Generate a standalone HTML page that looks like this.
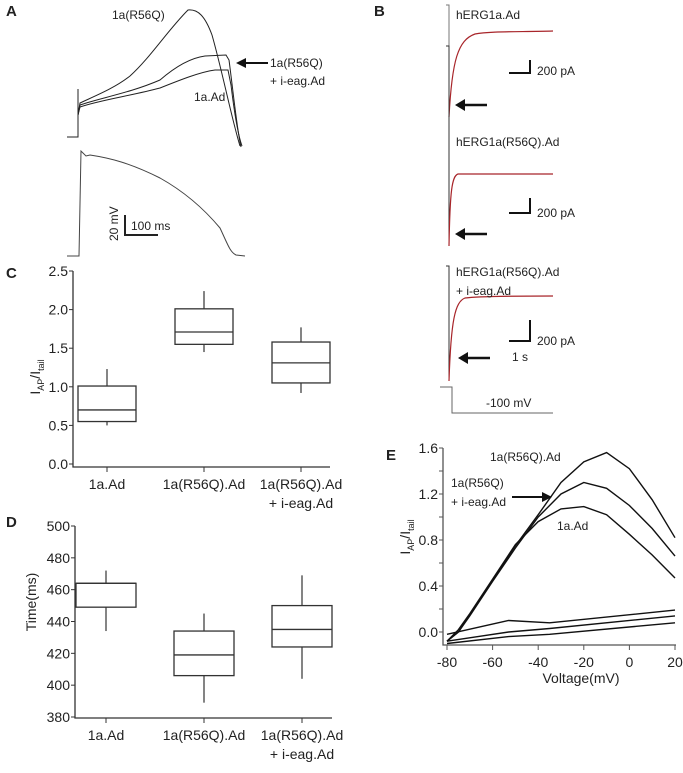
<!DOCTYPE html>
<html><head><meta charset="utf-8"><style>
body{margin:0;background:#fff}
svg{display:block;font-family:"Liberation Sans",Arial,sans-serif}
text{fill:#222}
</style></head><body>
<svg id="fig" width="683" height="773" viewBox="0 0 683 773" xmlns="http://www.w3.org/2000/svg">
<g font-weight="bold" font-size="15">
<text x="6" y="16">A</text><text x="374" y="16">B</text><text x="6" y="278">C</text><text x="6" y="527">D</text><text x="386" y="460">E</text>
</g>
<!-- Panel A -->
<g fill="none" stroke="#222" stroke-width="1">
<path d="M67,137 L78,137 L78,89"/>
<path d="M78,115 L80,103 C95,96 115,88 130,76 C150,58 168,30 188,10 C198,9 205,16 212,35 C222,70 232,120 240,146"/>
<path d="M78,115 L80,105 C100,98 130,93 160,80 C175,67 190,58 205,56 L226,55 L229,60 C233,90 237,130 241,147"/>
<path d="M78,115 L80,107 C100,100 130,96 160,88 C180,80 200,72 215,70 L228,70 L231,85 C234,110 238,135 242,146"/>
<path d="M67,256 L79,256 L81,151 L86,156 L90,155 C110,158 130,163 160,178 C185,192 205,210 220,228 C228,245 230,252 236,255 L245,256" stroke="#444"/>
<path d="M125,215 L125,235 L158,235" stroke-width="2"/>
</g>
<g font-size="12">
<text x="112" y="19">1a(R56Q)</text>
<text x="270" y="67">1a(R56Q)</text><text x="270" y="85">+ i-eag.Ad</text>
<text x="194" y="101">1a.Ad</text>
<text x="131" y="230">100 ms</text>
<text transform="translate(118,241) rotate(-90)">20 mV</text>
</g>
<path d="M268,63 L242,63" stroke="#111" stroke-width="2"/>
<path d="M236,63 L246,58 L246,68 Z" fill="#111"/>
<!-- Panel B -->
<g fill="none">
<path d="M446,5 L449,5 L449,117" stroke="#777"/>
<path d="M449,117 C452,60 458,40 475,34 C490,31 520,32 553,31" stroke="#a8252a" stroke-width="1.2"/>
<path d="M446,46 L449,46 L449,246" stroke="#333"/>
<path d="M449,246 C450,190 452,176 458,174 L553,174" stroke="#a8252a" stroke-width="1.2"/>
<path d="M446,266 L449,266 L449,381" stroke="#333"/>
<path d="M449,381 C451,320 455,302 465,298 C480,296 520,296 553,296" stroke="#a8252a" stroke-width="1.2"/>
<path d="M509,73 L530,73 L530,60" stroke="#111" stroke-width="2"/>
<path d="M509,213 L530,213 L530,198" stroke="#111" stroke-width="2"/>
<path d="M509,341 L530,341 L530,320" stroke="#111" stroke-width="2"/>
<path d="M440,387 L452,387 L452,413 L553,413" stroke="#666"/>
<g stroke="#111" stroke-width="2.5"><path d="M487,105 L460,105"/><path d="M487,234 L460,234"/><path d="M490,358 L463,358"/></g>
</g>
<g fill="#111"><path d="M455,105 L465,99 L465,111Z"/><path d="M455,234 L465,228 L465,240Z"/><path d="M458,358 L468,352 L468,364Z"/></g>
<g font-size="12">
<text x="456" y="19">hERG1a.Ad</text><text x="537" y="75">200 pA</text>
<text x="456" y="146">hERG1a(R56Q).Ad</text><text x="537" y="217">200 pA</text>
<text x="456" y="276">hERG1a(R56Q).Ad</text><text x="456" y="295">+ i-eag.Ad</text>
<text x="537" y="345">200 pA</text><text x="512" y="361">1 s</text>
<text x="486" y="407">-100 mV</text>
</g>
<g id="charts"></g>
</svg>
<script>
// Panel C data
const catsC = ["1a.Ad","1a(R56Q).Ad","1a(R56Q).Ad"];
const cLo = [0.50,1.45,0.92], cQ1 = [0.55,1.55,1.05], cMed = [0.70,1.71,1.31], cQ3 = [1.01,2.01,1.58], cHi = [1.23,2.24,1.77];
const ticksC = ["0.0","0.5","1.0","1.5","2.0","2.5"];
// Panel D data
const catsD = ["1a.Ad","1a(R56Q).Ad","1a(R56Q).Ad"];
const dLo = [434,389,404], dQ1 = [449,406,424], dMed = [464,419,435], dQ3 = [464,434,450], dHi = [472,445,469];
const ticksD = ["380","400","420","440","460","480","500"];
// Panel E data
const voltE = [-80,-75,-70,-60,-50,-40,-30,-20,-10,0,10,20];
const eR56Q = [-0.08,0.0,0.15,0.45,0.75,1.02,1.30,1.48,1.56,1.42,1.15,0.82];
const eIeag = [-0.08,0.0,0.14,0.44,0.73,1.0,1.20,1.30,1.25,1.10,0.90,0.66];
const e1a = [-0.08,0.02,0.16,0.46,0.76,0.96,1.07,1.09,1.02,0.85,0.67,0.47];
const voltLow = [-80,-53,-35,20];
const eLow1 = [-0.02,0.10,0.08,0.19];
const eLow2 = [-0.08,0.0,0.03,0.14];
const eLow3 = [-0.10,-0.04,-0.02,0.08];
const ticksEy = ["0.0","0.4","0.8","1.2","1.6"];
const ticksEx = ["-80","-60","-40","-20","0","20"];

const NS="http://www.w3.org/2000/svg";
const root=document.getElementById('charts');
function mk(tag,attrs,parent,txt){const e=document.createElementNS(NS,tag);for(const k in attrs)e.setAttribute(k,attrs[k]);if(txt!==undefined)e.textContent=txt;(parent||root).appendChild(e);return e;}

function boxPanel(name,cfg){
  const g=mk('g',{});
  
  
  const y=v=>cfg.y0+(v-cfg.vmin)/(cfg.vmax-cfg.vmin)*(cfg.y1-cfg.y0);
  const xc=i=>cfg.xc[i];
  const ax=mk('path',{d:`M${cfg.ax},${y(cfg.vmax)} L${cfg.ax},${cfg.base} L${cfg.xend},${cfg.base}`,stroke:'#333',fill:'none','stroke-width':1.3},g);
  
  
  cfg.ticks.forEach(t=>{const v=parseFloat(t);mk('line',{x1:cfg.ax-4,x2:cfg.ax,y1:y(v),y2:y(v),stroke:'#333'},g);
    const tl=mk('text',{x:cfg.ax-5,y:y(v)+5,'text-anchor':'end','font-size':14},g,t);
    
    });
  cfg.cats.forEach((c,i)=>{
    mk('line',{x1:xc(i),x2:xc(i),y1:cfg.base,y2:cfg.base+5,stroke:'#333'},g);
    const tl=mk('text',{x:xc(i),y:cfg.base+22,'text-anchor':'middle','font-size':14},g,c);
    
    
    if(i==2){const t2=mk('text',{x:xc(i),y:cfg.base+41,'text-anchor':'middle','font-size':14},g,'+ i-eag.Ad');
      
      }
    const w=cfg.bw/2;
    const wh=mk('path',{d:`M${xc(i)},${y(cfg.lo[i])} L${xc(i)},${y(cfg.hi[i])}`,stroke:'#333','stroke-width':1.2},g);
    
    
    const b=mk('rect',{x:xc(i)-w,y:y(cfg.q3[i]),width:cfg.bw,height:y(cfg.q1[i])-y(cfg.q3[i]),fill:'#fff',stroke:'#333','stroke-width':1.3},g);
    
    
    const m=mk('line',{x1:xc(i)-w,x2:xc(i)+w,y1:y(cfg.med[i]),y2:y(cfg.med[i]),stroke:'#333','stroke-width':1.3},g);
    
    
  });
  return g;
}
boxPanel('panel-c-boxplot',{ax:73,base:467,xend:330,vmin:0,vmax:2.5,y0:464,y1:271,xc:[107,204,301],bw:58,
  cats:catsC,lo:cLo,q1:cQ1,med:cMed,q3:cQ3,hi:cHi,ticks:ticksC});
boxPanel('panel-d-boxplot',{ax:75,base:718,xend:332,vmin:380,vmax:500,y0:717,y1:526,xc:[106,204,302],bw:60,
  cats:catsD,lo:dLo,q1:dQ1,med:dMed,q3:dQ3,hi:dHi,ticks:ticksD});

let yl=mk('text',{transform:'translate(40,377) rotate(-90)','text-anchor':'middle','font-size':14});
yl.innerHTML='I<tspan font-size="9" dy="4">AP</tspan><tspan dy="-4">/I</tspan><tspan font-size="9" dy="4">tail</tspan>';


yl=mk('text',{transform:'translate(36,602) rotate(-90)','text-anchor':'middle','font-size':14},root,'Time(ms)');



// Panel E
const gE=mk('g',{});


const ex=v=>447+(v+80)/100*228;
const ey=v=>632-v/1.6*184;
mk('path',{d:`M443,${ey(1.6)} L443,645 L676,645`,stroke:'#555',fill:'none','stroke-width':1.3},gE);
for(let v=0;v<=1.6+1e-9;v+=0.2){mk('line',{x1:439,x2:443,y1:ey(v),y2:ey(v),stroke:'#555'},gE);}
ticksEy.forEach(t=>{const tl=mk('text',{x:438,y:ey(parseFloat(t))+5,'text-anchor':'end','font-size':14},gE,t);
  
  });
ticksEx.forEach(t=>{const v=parseFloat(t);mk('line',{x1:ex(v),x2:ex(v),y1:645,y2:650,stroke:'#555'},gE);
  const tl=mk('text',{x:ex(v),y:667,'text-anchor':'middle','font-size':14},gE,t);
  
  });
function line(xs,ys,name){
  const p=mk('path',{d:xs.map((x,i)=>(i?'L':'M')+ex(x).toFixed(1)+','+ey(ys[i]).toFixed(1)).join(' '),stroke:'#111',fill:'none','stroke-width':1.4},gE);
  
  
}
line(voltE,eR56Q,'line-r56q');line(voltE,eIeag,'line-r56q-ieag');line(voltE,e1a,'line-1a');
line(voltLow,eLow1,'line-low-1');line(voltLow,eLow2,'line-low-2');line(voltLow,eLow3,'line-low-3');
const lab=[["1a(R56Q).Ad",490,461],["1a(R56Q)",451,487],["+ i-eag.Ad",451,506],["1a.Ad",557,530]];
lab.forEach(l=>{const t=mk('text',{x:l[1],y:l[2],'font-size':12},gE,l[0]);
  
  });
mk('path',{d:'M512,497 L545,497',stroke:'#111','stroke-width':2},gE);
mk('path',{d:'M552,497 L542,492 L542,502Z',fill:'#111'},gE);
let xt=mk('text',{x:581,y:683,'text-anchor':'middle','font-size':14},gE,'Voltage(mV)');


yl=mk('text',{transform:'translate(410,537) rotate(-90)','text-anchor':'middle','font-size':14},gE);
yl.innerHTML='I<tspan font-size="9" dy="4">AP</tspan><tspan dy="-4">/I</tspan><tspan font-size="9" dy="4">tail</tspan>';


</script>
</body></html>
